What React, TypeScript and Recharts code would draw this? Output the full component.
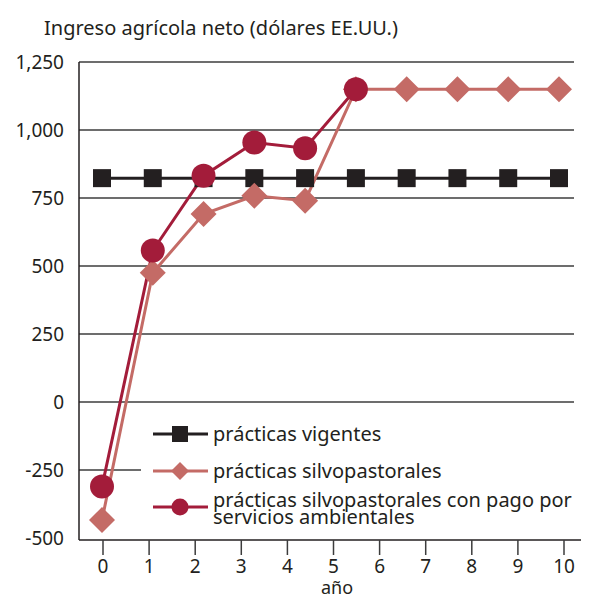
import {
  LineChart,
  Line,
  XAxis,
  YAxis,
  CartesianGrid,
  Legend
} from 'recharts';

const FONT = '"Noto Sans", "Open Sans", sans-serif';

const puntos = [0, 1, 2, 3, 4, 5, 6, 7, 8, 9];
const vigentes = [823, 823, 823, 823, 823, 823, 823, 823, 823, 823];
const silvopastorales = [-434, 475, 691, 758, 740, 1150, 1150, 1150, 1150, 1150];
const conPago = [-311, 557, 832, 954, 933, 1150, null, null, null, null];

const anios = [0, 1, 2, 3, 4, 5, 6, 7, 8, 9, 10];
const yTicks = [-500, -250, 0, 250, 500, 750, 1000, 1250];
const gridValues = [-250, 0, 250, 500, 750, 1000, 1250];

const NEGRO = '#231f20';
const ROSA = '#c46b66';
const GRANATE = '#a31c3a';

const data = puntos.map((p, i) => ({
  p,
  vigentes: vigentes[i],
  silvo: silvopastorales[i],
  pago: conPago[i]
}));

const SquareDot = (props: any) => {
  const { cx, cy } = props;
  if (cx == null || cy == null) return null;
  return <rect x={cx - 9} y={cy - 9} width={18} height={18} fill={NEGRO} />;
};

const DiamondDot = (props: any) => {
  const { cx, cy } = props;
  if (cx == null || cy == null) return null;
  const r = 13;
  return (
    <polygon
      points={`${cx},${cy - r} ${cx + r},${cy} ${cx},${cy + r} ${cx - r},${cy}`}
      fill={ROSA}
    />
  );
};

function LeyendaPersonalizada() {
  return (
    <svg width={434} height={125} style={{ display: 'block' }}>
      <g>
        <line x1={12} x2={67} y1={29} y2={29} stroke={NEGRO} strokeWidth={3} />
        <rect x={31} y={21} width={16} height={16} fill={NEGRO} />
        <text x={72} y={36} fontFamily={FONT} fontSize={20} fill={NEGRO}>prácticas vigentes</text>
      </g>
      <g>
        <line x1={12} x2={67} y1={66} y2={66} stroke={ROSA} strokeWidth={3} />
        <polygon points="39,57 48,66 39,75 30,66" fill={ROSA} />
        <text x={72} y={73} fontFamily={FONT} fontSize={20} fill={NEGRO}>prácticas silvopastorales</text>
      </g>
      <g>
        <line x1={12} x2={67} y1={102} y2={102} stroke={GRANATE} strokeWidth={3} />
        <circle cx={39} cy={102} r={8.5} fill={GRANATE} />
        <text x={72} y={102} fontFamily={FONT} fontSize={20} fill={NEGRO}>prácticas silvopastorales con pago por</text>
        <text x={72} y={119} fontFamily={FONT} fontSize={20} fill={NEGRO}>servicios ambientales</text>
      </g>
    </svg>
  );
}

export default function App() {
  return (
    <div style={{ position: 'absolute', left: 0, top: 0, width: 595, height: 599, background: '#fff', fontFamily: FONT }}>
      <div style={{ position: 'absolute', left: 44, top: 14, fontSize: 20, lineHeight: '28px', color: NEGRO, whiteSpace: 'nowrap' }}>
        Ingreso agrícola neto (dólares EE.UU.)
      </div>
      <LineChart
        width={595}
        height={599}
        data={data}
        margin={{ top: 62, right: 14, left: 0, bottom: 19 }}
      >
        <CartesianGrid
          vertical={false}
          horizontalValues={gridValues}
          stroke="#3c3c3c"
          strokeWidth={1.5}
          width={495}
        />
        <XAxis
          xAxisId="d"
          dataKey="p"
          type="number"
          domain={[0, 9]}
          padding={{ left: 23, right: 22 }}
          orientation="top"
          height={0}
          hide
        />
        <XAxis
          xAxisId="t"
          dataKey="anio"
          type="number"
          domain={[0, 10]}
          ticks={anios}
          allowDataOverflow
          padding={{ left: 24, right: 17 }}
          height={40}
          axisLine={{ stroke: NEGRO, strokeWidth: 1.5 }}
          tickLine={{ stroke: '#3c3c3c', strokeWidth: 1.5 }}
          tickSize={15}
          tickMargin={5}
          tick={{ fill: NEGRO, fontSize: 19, fontFamily: FONT }}
          label={{ value: 'año', position: 'bottom', offset: 1, dx: 7, fill: NEGRO, fontSize: 18, fontFamily: FONT }}
        />
        <YAxis
          domain={[-500, 1250]}
          ticks={yTicks}
          width={79}
          padding={{ bottom: 2 }}
          allowDataOverflow
          axisLine={{ stroke: NEGRO, strokeWidth: 1.5 }}
          tickLine={false}
          tickSize={0}
          tickMargin={15}
          tick={{ fill: NEGRO, fontSize: 19, fontFamily: FONT }}
          tickFormatter={(v: number) => v.toLocaleString('en-US')}
        />
        <Legend
          layout="horizontal"
          verticalAlign="middle"
          align="center"
          content={() => <LeyendaPersonalizada />}
          wrapperStyle={{ left: 141, top: 405, width: 434, height: 125, background: '#fff' }}
        />
        <Line
          xAxisId="d"
          dataKey="vigentes"
          stroke={NEGRO}
          strokeWidth={3}
          dot={<SquareDot />}
          isAnimationActive={false}
        />
        <Line
          xAxisId="d"
          dataKey="silvo"
          stroke={ROSA}
          strokeWidth={3}
          dot={<DiamondDot />}
          isAnimationActive={false}
        />
        <Line
          xAxisId="d"
          dataKey="pago"
          stroke={GRANATE}
          strokeWidth={3}
          dot={{ r: 12, fill: GRANATE, stroke: 'none' }}
          isAnimationActive={false}
        />
      </LineChart>
    </div>
  );
}
